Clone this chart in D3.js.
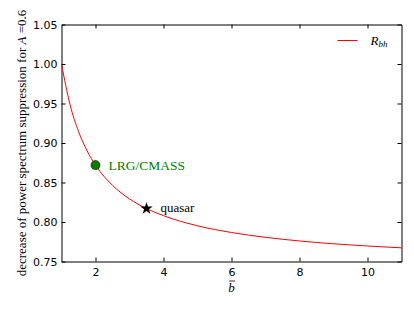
<!DOCTYPE html>
<html>
<head>
<meta charset="utf-8">
<script src="https://cdn.jsdelivr.net/npm/d3@7"></script>
<style>
  body { margin: 0; background: #fff; }
  text { fill: #000; }
</style>
</head>
<body>
<div id="chart"></div>
<script>
// curve R_bh
var bbar = [1, 1.25, 1.5, 1.75, 2, 2.5, 3, 3.5, 4, 5, 6, 7, 8, 9, 10, 11];
var rbh = [1.000, 0.9488, 0.9147, 0.8903, 0.872, 0.8464, 0.8293, 0.817, 0.808, 0.7952, 0.7867, 0.7806, 0.776, 0.7724, 0.7696, 0.7673];

var xTicks = [2, 4, 6, 8, 10];
var yTicks = [0.75, 0.80, 0.85, 0.90, 0.95, 1.00, 1.05];

// tracers
var tracerNames = ["LRG/CMASS", "quasar"];
var tracerB = [2, 3.5];
var tracerR = [0.872, 0.817];

var svgDims = {width: 414, height: 310};
var margin = {top: 24.5, right: 12.5, bottom: 48.5, left: 61.5};
var width = svgDims.width - margin.left - margin.right;
var height = svgDims.height - margin.top - margin.bottom;

var svg = d3.select("#chart").append("svg")
    .attr("width", svgDims.width)
    .attr("height", svgDims.height);

var g = svg.append("g")
    .attr("transform", "translate(" + margin.left + "," + margin.top + ")");

var x_scale = d3.scaleLinear().domain([1, 11]).range([0, width]);
var y_scale = d3.scaleLinear().domain([0.75, 1.05]).range([height, 0]);

var tickFont = "'DejaVu Sans', sans-serif";
var serif = "'Liberation Serif', 'DejaVu Serif', serif";

// axes, ticks pointing inward
var xBottom = d3.axisBottom(x_scale).tickValues(xTicks).tickSizeInner(-4).tickSizeOuter(0).tickPadding(7).tickFormat(d3.format("d"));
var xTop = d3.axisTop(x_scale).tickValues(xTicks).tickSizeInner(-4).tickSizeOuter(0).tickFormat("");
var yLeft = d3.axisLeft(y_scale).tickValues(yTicks).tickSizeInner(-4).tickSizeOuter(0).tickPadding(4).tickFormat(d3.format(".2f"));
var yRight = d3.axisRight(y_scale).tickValues(yTicks).tickSizeInner(-4).tickSizeOuter(0).tickFormat("");

g.append("g").attr("transform", "translate(0," + height + ")").call(xBottom);
g.append("g").call(xTop);
g.append("g").call(yLeft);
g.append("g").attr("transform", "translate(" + width + ",0)").call(yRight);

g.selectAll(".domain").attr("stroke", "#000").attr("stroke-width", 1);
g.selectAll(".tick line").attr("stroke", "#000");
g.selectAll(".tick text").attr("font-family", tickFont).attr("font-size", "11px").attr("fill", "#000");

// curve
var line = d3.line()
    .x(function(d, i) { return x_scale(bbar[i]); })
    .y(function(d) { return y_scale(d); })
    .curve(d3.curveMonotoneX);

g.append("path")
    .datum(rbh)
    .attr("fill", "none")
    .attr("stroke", "red")
    .attr("stroke-width", 1)
    .attr("d", line);

// markers
g.append("circle")
    .attr("cx", x_scale(tracerB[0]))
    .attr("cy", y_scale(tracerR[0]))
    .attr("r", 4.5)
    .attr("fill", "green")
    .attr("stroke", "#000")
    .attr("stroke-width", 0.6);

g.append("path")
    .attr("d", d3.symbol().type(d3.symbolStar).size(48)())
    .attr("transform", "translate(" + x_scale(tracerB[1]) + "," + y_scale(tracerR[1]) + ")")
    .attr("fill", "#000");

g.append("text")
    .attr("x", x_scale(tracerB[0]) + 13)
    .attr("y", y_scale(tracerR[0]) + 4.5)
    .attr("font-family", serif)
    .attr("font-size", "13.5px")
    .style("fill", "green")
    .text(tracerNames[0]);

g.append("text")
    .attr("x", x_scale(tracerB[1]) + 14)
    .attr("y", y_scale(tracerR[1]) + 3)
    .attr("font-family", serif)
    .attr("font-size", "13px")
    .text(tracerNames[1]);

// legend
g.append("line")
    .attr("x1", width - 64).attr("x2", width - 44)
    .attr("y1", 16).attr("y2", 16)
    .attr("stroke", "red").attr("stroke-width", 1);

var leg = g.append("text")
    .attr("x", width - 31)
    .attr("y", 20)
    .attr("font-family", serif)
    .attr("font-size", "13px")
    .attr("font-style", "italic");
leg.append("tspan").text("R");
leg.append("tspan").attr("font-size", "9px").attr("dy", 2.5).text("bh");

// x label: b with a bar
var cx = margin.left + width / 2;
svg.append("text")
    .attr("x", cx)
    .attr("y", 292)
    .attr("text-anchor", "middle")
    .attr("font-family", serif)
    .attr("font-size", "13px")
    .attr("font-style", "italic")
    .text("b");
svg.append("line")
    .attr("x1", cx - 2.5).attr("x2", cx + 3.5)
    .attr("y1", 281).attr("y2", 281)
    .attr("stroke", "#000").attr("stroke-width", 0.8);

// y label
var yl = svg.append("text")
    .attr("transform", "translate(26," + (margin.top + height / 2) + ") rotate(-90)")
    .attr("text-anchor", "middle")
    .attr("font-family", serif)
    .attr("font-size", "13px");
yl.append("tspan").text("decrease of power spectrum suppression for ");
yl.append("tspan").attr("font-style", "italic").text("A");
yl.append("tspan").text(" =0.6");
</script>
</body>
</html>
